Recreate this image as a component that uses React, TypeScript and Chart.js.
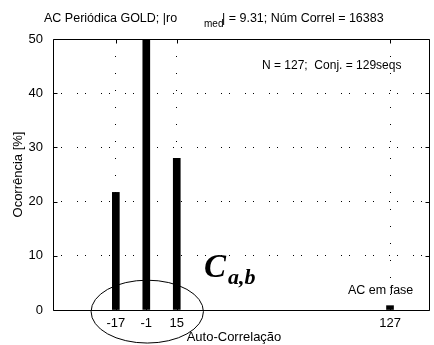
import React, { useEffect, useRef } from "react";
import { Chart, registerables } from "chart.js";

Chart.register(...registerables);

// ---- data ----
const lags = [-17, -1, 15, 127];
const occurrence = [21.7, 50, 28.0, 0.8];
const xTickValues = [-17, -1, 15, 127];
const yTickValues = [0, 10, 20, 30, 40, 50];
const xRange = [-50, 148];
const yRange = [0, 50];

const titleMain = "AC Periódica GOLD; |ro";
const titleSub = "med";
const titleRest = "| = 9.31; Núm Correl = 16383";
const infoText = "N = 127;  Conj. = 129seqs";
const phaseText = "AC em fase";
const xLabel = "Auto-Correlação";
const yLabel = "Ocorrência [%]";

const SANS = "'Liberation Sans', Arial, Helvetica, sans-serif";
const SERIF = "'Liberation Serif', 'Times New Roman', serif";

const overlay = {
  id: "overlay",
  afterDraw(chart: any) {
    const ctx = chart.ctx as CanvasRenderingContext2D;
    const { left, right, top, bottom } = chart.chartArea;
    const xs = chart.scales.x;
    const ys = chart.scales.y;
    const L = Math.round(left) + 0.5;
    const R = Math.round(right) - 0.5;
    const T = Math.round(top) + 0.5;
    const B = Math.round(bottom) + 0.5;
    ctx.save();
    ctx.strokeStyle = "#000";
    ctx.lineWidth = 1;
    ctx.setLineDash([]);
    ctx.beginPath();
    ctx.moveTo(L, T);
    ctx.lineTo(R, T);
    ctx.lineTo(R, B);
    ctx.lineTo(L, B);
    ctx.closePath();
    ctx.stroke();

    // inward tick marks
    ctx.beginPath();
    yTickValues.forEach((v) => {
      const y = Math.round(ys.getPixelForValue(v)) + 0.5;
      ctx.moveTo(L, y);
      ctx.lineTo(L + 4, y);
      ctx.moveTo(R, y);
      ctx.lineTo(R - 4, y);
    });
    xTickValues.forEach((v) => {
      const x = Math.round(xs.getPixelForValue(v)) + 0.5;
      ctx.moveTo(x, B);
      ctx.lineTo(x, B - 4);
      ctx.moveTo(x, T);
      ctx.lineTo(x, T + 4);
    });
    ctx.stroke();

    // title
    ctx.fillStyle = "#000";
    ctx.textBaseline = "alphabetic";
    ctx.textAlign = "left";
    ctx.font = `12.5px ${SANS}`;
    ctx.fillText(titleMain, 44, 22);
    ctx.font = `10px ${SANS}`;
    ctx.fillText(titleSub, 204, 27);
    ctx.font = `12.5px ${SANS}`;
    ctx.fillText(titleRest, 222, 22);

    // info text
    ctx.font = `12px ${SANS}`;
    ctx.fillText(infoText, 262, 69);

    // "AC em fase"
    ctx.font = `12.5px ${SANS}`;
    ctx.fillText(phaseText, 348, 294);

    // x label
    ctx.textAlign = "center";
    ctx.font = `13px ${SANS}`;
    ctx.fillText(xLabel, 234, 341);

    // y label
    ctx.save();
    ctx.translate(18, (top + bottom) / 2);
    ctx.rotate(-Math.PI / 2);
    ctx.textBaseline = "middle";
    ctx.fillText(yLabel, 0, 0);
    ctx.restore();

    // C_{a,b}
    ctx.textAlign = "left";
    ctx.font = `italic bold 33px ${SERIF}`;
    ctx.fillText("C", 204, 277);
    ctx.font = `italic bold 22px ${SERIF}`;
    ctx.fillText("a,b", 228, 284);

    // ellipse around central lags
    const cx = xs.getPixelForValue(-0.5);
    const cy = ys.getPixelForValue(-0.3);
    const rx = xs.getPixelForValue(29.5) - xs.getPixelForValue(0);
    const ry = ys.getPixelForValue(0) - ys.getPixelForValue(5.8);
    ctx.beginPath();
    ctx.ellipse(cx, cy, rx, ry, 0, 0, Math.PI * 2);
    ctx.stroke();
    ctx.restore();
  },
};

export default function App() {
  const ref = useRef<HTMLCanvasElement | null>(null);
  useEffect(() => {
    if (!ref.current) return;
    const chart = new Chart(ref.current, {
      type: "bar",
      data: {
        datasets: [
          {
            data: lags.map((x, i) => ({ x, y: occurrence[i] })),
            backgroundColor: "#000",
            borderWidth: 0,
            barThickness: 7,
          },
        ],
      },
      options: {
        responsive: false,
        animation: false,
        layout: { padding: { left: 0, right: 4, top: 39, bottom: 0 } },
        plugins: {
          legend: { display: false },
          title: { display: false },
          tooltip: { enabled: false },
        },
        scales: {
          x: {
            type: "linear",
            min: xRange[0],
            max: xRange[1],
            offset: false,
            afterBuildTicks: (scale: any) => {
              scale.ticks = xTickValues.map((v) => ({ value: v }));
            },
            afterFit: (scale: any) => {
              scale.height = 35;
            },
            grid: {
              offset: false,
              drawTicks: false,
              color: "#000",
              lineWidth: 1,
            } as any,
            border: { display: false, dash: [1, 16] },
            ticks: {
              autoSkip: false,
              maxRotation: 0,
              padding: 6,
              color: "#000",
              font: { family: SANS, size: 13 },
              callback: (v: any) => String(v),
            },
          },
          y: {
            type: "linear",
            min: yRange[0],
            max: yRange[1],
            afterBuildTicks: (scale: any) => {
              scale.ticks = yTickValues.map((v) => ({ value: v }));
            },
            afterFit: (scale: any) => {
              scale.width = 53;
            },
            grid: {
              drawTicks: false,
              color: (c: any) =>
                c.tick && (c.tick.value === 0 || c.tick.value === 50) ? "rgba(0,0,0,0)" : "#000",
              lineWidth: 1,
            },
            border: { display: false, dash: [1, 7, 1, 15] },
            ticks: {
              padding: 10,
              color: "#000",
              font: { family: SANS, size: 13 },
              callback: (v: any) => String(v),
            },
          },
        },
      } as any,
      plugins: [overlay],
    });
    return () => chart.destroy();
  }, []);
  return (
    <div style={{ position: "fixed", left: 0, top: 0, width: 434, height: 345, background: "#fff" }}>
      <canvas ref={ref} width={434} height={345} style={{ width: 434, height: 345, display: "block" }} />
    </div>
  );
}
